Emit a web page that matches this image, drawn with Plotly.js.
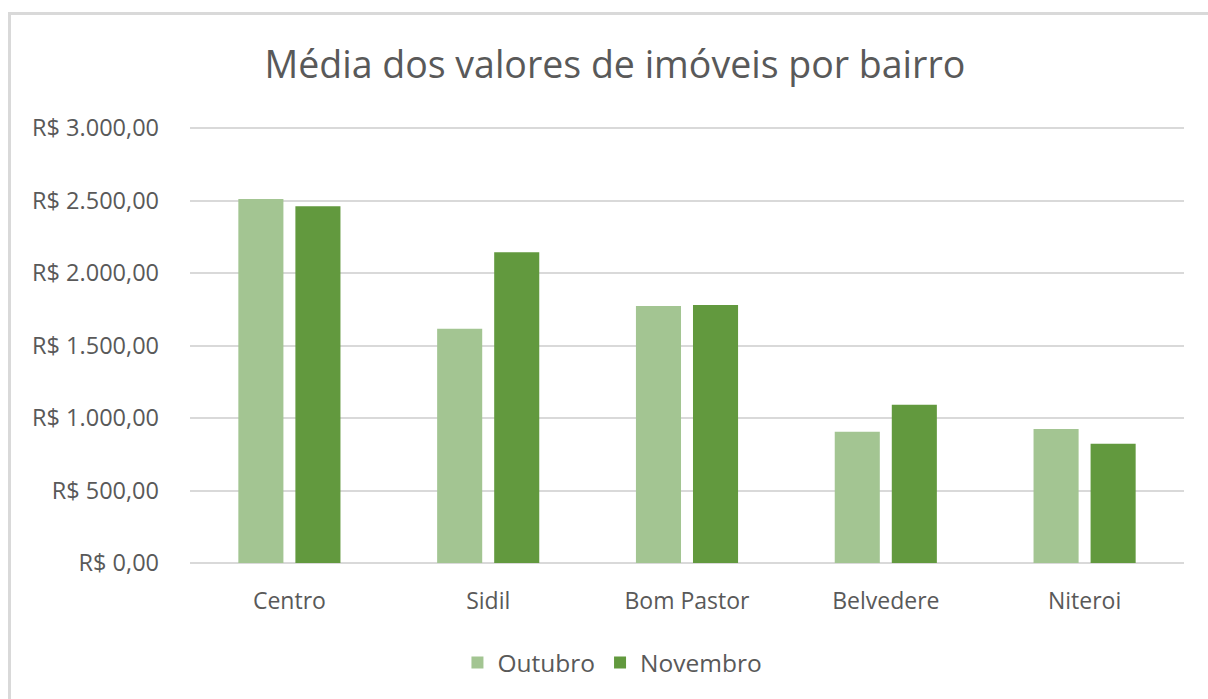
<!DOCTYPE html>
<html>
<head>
<meta charset="utf-8">
<script src="https://cdn.plot.ly/plotly-3.0.1.min.js"></script>
<style>
html,body{margin:0;padding:0;background:#fff;}
#wrap{position:relative;width:1208px;height:699px;overflow:hidden;}
#chart{position:absolute;left:0;top:0;width:1208px;height:699px;}
#bt{position:absolute;left:8px;top:12px;width:1200px;height:3px;background:#d9d9d9;pointer-events:none;}
#bl{position:absolute;left:8px;top:12px;width:3px;height:700px;background:#d9d9d9;pointer-events:none;}
</style>
</head>
<body>
<div id="wrap"><div id="chart"></div><div id="bt"></div><div id="bl"></div></div>
<script>
const categories = ["Centro", "Sidil", "Bom Pastor", "Belvedere", "Niteroi"];
const outubro = [2510, 1615, 1772, 905, 924];
const novembro = [2460, 2143, 1779, 1092, 823];
const tickValues = [0, 500, 1000, 1500, 2000, 2500, 3000];
const tickLabels = ["R$ 0,00", "R$ 500,00", "R$ 1.000,00", "R$ 1.500,00", "R$ 2.000,00", "R$ 2.500,00", "R$ 3.000,00"];

const FONT = "Open Sans, Noto Sans, sans-serif";
const traces = [
  {type: "bar", name: "Outubro", x: categories, y: outubro, marker: {color: "#A3C592"}},
  {type: "bar", name: "Novembro", x: categories, y: novembro, marker: {color: "#62993E"}}
];
const layout = {
  width: 1208, height: 699,
  margin: {l: 190, r: 24, t: 126, b: 136},
  paper_bgcolor: "#ffffff", plot_bgcolor: "#ffffff",
  font: {family: FONT, color: "#595959", size: 23},
  title: {text: "Média dos valores de imóveis por bairro", xref: "container", yref: "container",
          x: 0.509, y: 0.907, xanchor: "center", yanchor: "middle",
          font: {family: FONT, size: 37.5, color: "#595959"}},
  barmode: "group", bargap: 0.426, bargroupgap: 0.21,
  xaxis: {type: "category", showgrid: false, showline: false, ticks: "", ticklen: 0,
          ticklabelstandoff: 22,
          tickfont: {size: 23, color: "#595959"}, automargin: false},
  yaxis: {range: [0, 3000 * 437 / 435], tickvals: tickValues, ticktext: tickLabels,
          showgrid: true, gridcolor: "#d9d9d9", gridwidth: 2,
          zeroline: true, zerolinecolor: "#d9d9d9", zerolinewidth: 2,
          showline: false, ticks: "", ticklen: 0, ticklabelstandoff: 30,
          tickfont: {size: 23.5, color: "#595959"}, automargin: false},
  showlegend: true,
  legend: {orientation: "h", x: 0.425, xanchor: "center", y: -0.228, yanchor: "middle",
           font: {size: 24.5, color: "#595959"}, itemwidth: 30, traceorder: "normal"},
  hovermode: false
};
Plotly.newPlot("chart", traces, layout, {displayModeBar: false, staticPlot: true});
</script>
</body>
</html>
